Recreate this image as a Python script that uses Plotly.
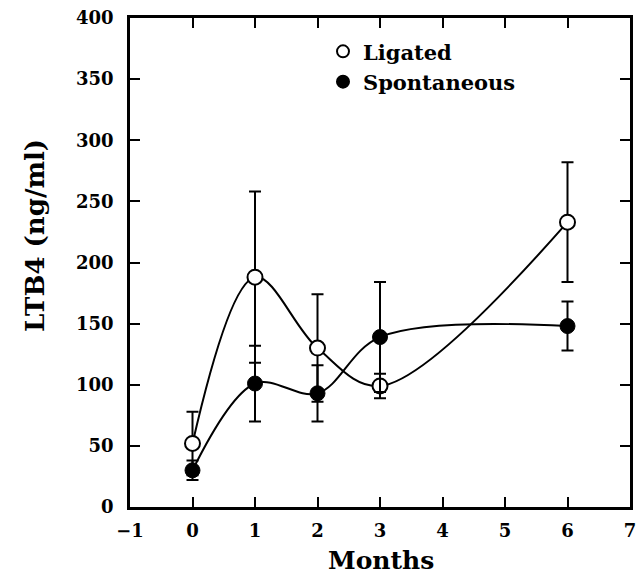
import plotly.graph_objects as go

months = [0, 1, 2, 3, 6]
ligated = [52, 188, 130, 99, 233]
ligated_err = [26, 70, 44, 10, 49]
spont = [30, 101, 93, 139, 148]
spont_err = [8, 31, 23, 45, 20]

FONT = "DejaVu Serif"

fig = go.Figure()
# smooth curves
for y in (ligated, spont):
    fig.add_trace(go.Scatter(x=months, y=y, mode="lines",
                             line=dict(shape="spline", smoothing=1.0, color="black", width=2),
                             showlegend=False, hoverinfo="skip"))
fig.add_trace(go.Scatter(x=months, y=ligated, mode="markers", name="Ligated",
                         marker=dict(symbol="circle", size=15, color="white",
                                     line=dict(color="black", width=2)),
                         error_y=dict(type="data", array=ligated_err, visible=True,
                                      color="black", thickness=2, width=6)))
fig.add_trace(go.Scatter(x=months, y=spont, mode="markers", name="Spontaneous",
                         marker=dict(symbol="circle", size=15, color="black",
                                     line=dict(color="black", width=1)),
                         error_y=dict(type="data", array=spont_err, visible=True,
                                      color="black", thickness=2, width=6)))

axis_common = dict(showline=True, linecolor="black", linewidth=2.5, mirror="ticks",
                   ticks="inside", ticklen=10, tickwidth=2, tickcolor="black",
                   showgrid=False, zeroline=False, automargin=False,
                   tickfont=dict(family=FONT, size=18, color="black", weight="bold"))

xticks = list(range(-1, 8))
xlabels = ["\u22121", "0", "1", "2", "3", "4", "5", "6", "7"]
yticks = list(range(0, 401, 50))

fig.update_layout(
    xaxis=dict(range=[-1, 7], tickvals=xticks, ticktext=xlabels,
               ticklabelstandoff=6, **axis_common),
    yaxis=dict(range=[0, 400], tickvals=yticks, ticklabelstandoff=10, **axis_common),
)

fig.add_annotation(text="LTB4 (ng/ml)", textangle=-90, xref="paper", yref="paper",
                   x=-0.19, y=0.554, xanchor="center", yanchor="middle", showarrow=False,
                   font=dict(family=FONT, size=26, color="black", weight="bold"))
fig.add_annotation(text="Months", xref="paper", yref="paper",
                   x=0.502, y=-0.109, xanchor="center", yanchor="middle", showarrow=False,
                   font=dict(family=FONT, size=25, color="black", weight="bold"))

fig.update_layout(
    width=637, height=575,
    margin=dict(l=130, r=7, t=18, b=68),
    plot_bgcolor="white", paper_bgcolor="white",
    font=dict(family=FONT, color="black"),
    legend=dict(x=0.386, y=0.973, xanchor="left", yanchor="top",
                font=dict(family=FONT, size=21, color="black", weight="bold"),
                bgcolor="rgba(0,0,0,0)", itemsizing="constant", tracegroupgap=0),
)

fig.write_html("out.html")
